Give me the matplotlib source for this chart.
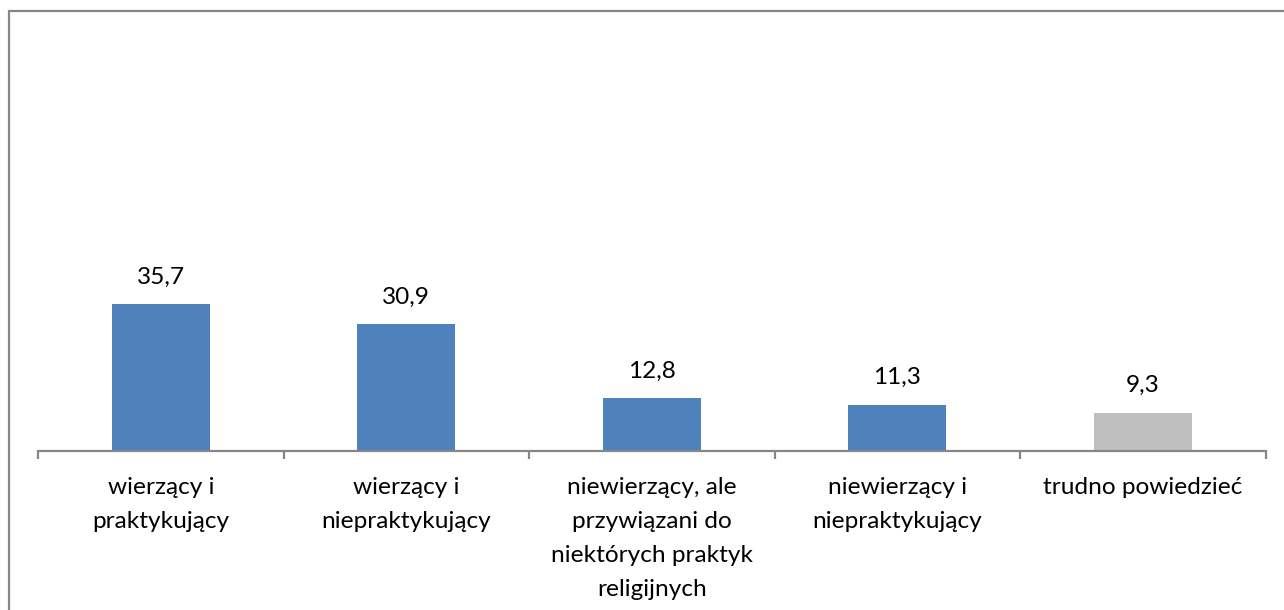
import matplotlib
matplotlib.use("Agg")
import matplotlib.pyplot as plt
from matplotlib.patches import Rectangle

categories = [
    "wierzący i\npraktykujący",
    "wierzący i\nniepraktykujący",
    "niewierzący, ale\nprzywiązani do\nniektórych praktyk\nreligijnych",
    "niewierzący i\nniepraktykujący",
    "trudno powiedzieć",
]
values = [35.7, 30.9, 12.8, 11.3, 9.3]
value_labels = ["35,7", "30,9", "12,8", "11,3", "9,3"]
bar_colors = ["#4F81BD", "#4F81BD", "#4F81BD", "#4F81BD", "#BFBFBF"]

W, H = 1284, 610
fig = plt.figure(figsize=(W / 100, H / 100), dpi=100)
plt.rcParams['font.family'] = ['Lato', 'DejaVu Sans']

# outer chart border (extends beyond right/bottom edge)
fig.patches.append(Rectangle((9 / W, -0.1), 1.2, (H - 10.5) / H + 0.1,
                             transform=fig.transFigure, fill=False,
                             edgecolor="#868686", linewidth=1.6))

left, right = 38 / W, 1265.5 / W
bottom = (H - 451) / H
top_px = 451 - 4.104 * 100
ax = fig.add_axes([left, bottom, right - left, (451 - top_px) / H])

x = list(range(len(categories)))
ax.bar(x, values, width=0.4, color=bar_colors, zorder=2)
ax.set_xlim(-0.5, len(categories) - 0.5)
ax.set_ylim(0, 100)

for xi, v, lab in zip(x, values, value_labels):
    ax.annotate(lab, (xi, v), xytext=(0, 12), textcoords="offset points",
                ha="center", va="bottom", fontsize=17.6, color="black")

for s in ["top", "right", "left"]:
    ax.spines[s].set_visible(False)
ax.spines["bottom"].set_color("#868686")
ax.spines["bottom"].set_linewidth(1.6)
ax.set_yticks([])

ax.set_xticks([i - 0.5 for i in range(len(categories) + 1)])
ax.set_xticklabels([])
ax.tick_params(axis="x", which="major", length=6, width=1.6, color="#868686")
ax.set_xticks(x, minor=True)
ax.set_xticklabels(categories, minor=True, fontsize=17.6, linespacing=1.78)
ax.tick_params(axis="x", which="minor", length=0, pad=18.5)

fig.savefig("out.png", dpi=100)
